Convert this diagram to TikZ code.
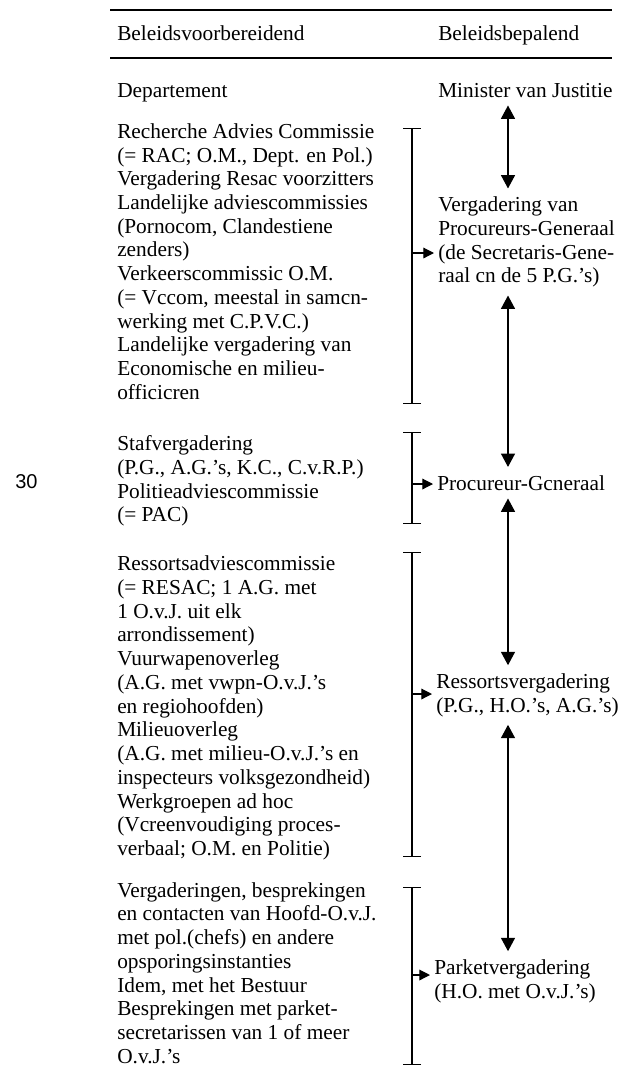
\documentclass[tikz,border=0pt]{standalone}
\usepackage{fontspec}
\setmainfont{Liberation Serif}
\newfontfamily\folio{Liberation Sans}
\usetikzlibrary{arrows.meta}

\begin{document}
\begin{tikzpicture}[x=0.75pt, y=-0.75pt,
	every node/.style={font=\fontsize{16}{17.8}\selectfont, inner sep=0pt},
	txt/.style={anchor=west, align=left},
	one/.style={anchor=base west},
	brace/.style={line width=0.9pt, {Bar[width=13.5pt]}-{Bar[width=13.5pt]}},
	feed/.style={line width=0.9pt, -{Triangle[width=8pt,length=8pt]}, shorten >=3pt},
	link/.style={line width=0.9pt, {Triangle[width=10.5pt,length=10pt]}-{Triangle[width=10.5pt,length=10pt]}, shorten <=6pt, shorten >=6pt}]
	\useasboundingbox (0,0) rectangle (631,1068);
	\draw [line width=1.1pt] (110,10) -- (612,10);
	\draw [line width=1.1pt] (110,58) -- (612,58);
	\node [one] (hprep) at (117,40) {Beleidsvoorbereidend};
	\node [one] (hdecide) at (438,40) {Beleidsbepalend};
	\node [one, font=\folio\fontsize{15}{17}\selectfont] (folio) at (15,488) {30};

	\node [one] (dept) at (117,97) {Departement};
	\node [txt] (prep1) at (117,261.5) {Recherche Advies Commissie \\ (= RAC; O.M., Dept. en Pol.) \\ Vergadering Resac voorzitters \\ Landelijke adviescommissies \\ (Pornocom, Clandestiene \\ zenders) \\ Verkeerscommissic O.M. \\ (= Vccom, meestal in samcn- \\ werking met C.P.V.C.) \\ Landelijke vergadering van \\ Economische en milieu- \\ officicren};
	\node [txt] (prep2) at (117,481) {Stafvergadering \\ (P.G., A.G.'s, K.C., C.v.R.P.) \\ Politieadviescommissie \\ (= PAC)};
	\node [txt] (prep3) at (117,708) {Ressortsadviescommissie \\ (= RESAC; 1 A.G. met \\ 1 O.v.J. uit elk \\ arrondissement) \\ Vuurwapenoverleg \\ (A.G. met vwpn-O.v.J.'s \\ en regiohoofden) \\ Milieuoverleg \\ (A.G. met milieu-O.v.J.'s en \\ inspecteurs volksgezondheid) \\ Werkgroepen ad hoc \\ (Vcreenvoudiging proces- \\ verbaal; O.M. en Politie)};
	\node [txt] (prep4) at (117,973) {Vergaderingen, besprekingen \\ en contacten van Hoofd-O.v.J. \\ met pol.(chefs) en andere \\ opsporingsinstanties \\ Idem, met het Bestuur \\ Besprekingen met parket- \\ secretarissen van 1 of meer \\ O.v.J.'s};

	\node [one] (minister) at (438,97) {Minister van Justitie};
	\node [txt] (pgmeet) at (438,242) {Vergadering van \\ Procureurs-Generaal \\ (de Secretaris-Gene- \\ raal cn de 5 P.G.'s)};
	\node [one] (pg) at (437,490) {Procureur-Gcneraal};
	\node [txt] (ressort) at (436,695) {Ressortsvergadering \\ (P.G., H.O.'s, A.G.'s)};
	\node [txt] (parket) at (434,981) {Parketvergadering \\ (H.O. met O.v.J.'s)};

	\coordinate (axis) at (508,0);
	\coordinate (b1top) at (412,128);
	\coordinate (b1bot) at (412,404);
	\coordinate (b2top) at (412,432);
	\coordinate (b2bot) at (412,524);
	\coordinate (b3top) at (412,552);
	\coordinate (b3bot) at (412,857);
	\coordinate (b4top) at (412,887);
	\coordinate (b4bot) at (412,1065);
	\coordinate (f1) at (412,253);
	\coordinate (f2) at (412,484);
	\coordinate (f3) at (412,694);
	\coordinate (f4) at (412,975);

	\draw [brace] (b1top) -- (b1bot);
	\draw [brace] (b2top) -- (b2bot);
	\draw [brace] (b3top) -- (b3bot);
	\draw [brace] (b4top) -- (b4bot);
	\draw [feed] (f1) -- (f1 -| pgmeet.west);
	\draw [feed] (f2) -- (f2 -| pg.west);
	\draw [feed] (f3) -- (f3 -| ressort.west);
	\draw [feed] (f4) -- (f4 -| parket.west);

	\draw [link] (minister.south -| axis) -- (pgmeet.north -| axis);
	\draw [link] (pgmeet.south -| axis) -- (pg.north -| axis);
	\draw [link] (pg.south -| axis) -- (ressort.north -| axis);
	\draw [link] (ressort.south -| axis) -- (parket.north -| axis);
\end{tikzpicture}
\end{document}
